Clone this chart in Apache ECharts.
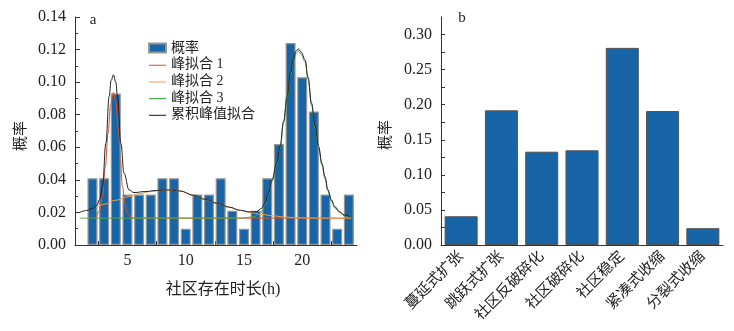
<!DOCTYPE html>
<html><head><meta charset="utf-8">
<script src="https://cdn.jsdelivr.net/npm/echarts@6/dist/echarts.min.js"></script>
<style>html,body{margin:0;padding:0;background:#fff}#c{width:734px;height:331px}</style>
</head><body><div id="c"></div>
<script>
// ---- Panel a: histogram of community lifetime ----
const barX = [2,3,4,5,6,7,8,9,10,11,12,13,14,15,16,17,18,19,20,21,22,23,24];
const barP = [0.041,0.041,0.093,0.031,0.031,0.031,0.041,0.041,0.010,0.031,0.031,0.041,0.021,0.010,0.021,0.041,0.062,0.124,0.103,0.082,0.031,0.010,0.031];

// fitted curves
const fit1X = [2.3,2.6,2.86,3.1,3.34,3.55,3.8,4.0,4.2,4.4,4.57,4.8,5.0,5.43,8,12,16,20,24.2];
const fit1Y = [0.0165,0.0210,0.0297,0.0480,0.0687,0.0860,0.0937,0.0880,0.0728,0.0520,0.0359,0.0250,0.0195,0.0166,0.0165,0.0165,0.0165,0.0165,0.0165];

const fit2X = [2.3,3.0,4.0,5.14,6.0,7.0,8.0,8.7,9.5,10.7,11.7,12.7,13.7,14.7,15.5,16.5,17.5,18.5,19.5,21,24.2];
const fit2Y = [0.0226,0.0250,0.0275,0.0297,0.0315,0.0328,0.0335,0.0337,0.0331,0.0304,0.0279,0.0255,0.0232,0.0212,0.0200,0.0188,0.0179,0.0172,0.0167,0.0165,0.0165];

const fit3X = [0.9,5,10,14.7,15.8,16.4,16.8,17.1,17.4,17.8,18.1,18.4,18.7,19.0,19.24,19.45,19.67,19.9,20.24,20.5,20.8,21.1,21.4,21.7,21.95,22.2,22.5,22.8,23.2,23.6,24.1];
const fit3Y = [0.0165,0.0165,0.0165,0.0165,0.0172,0.0195,0.0245,0.0310,0.0390,0.0490,0.0595,0.0750,0.0900,0.1045,0.1125,0.1175,0.1190,0.1172,0.1125,0.1017,0.0858,0.0718,0.0593,0.0488,0.0408,0.0330,0.0268,0.0228,0.0200,0.0180,0.0170];

const sumX = [0.9,1.5,2.0,2.4,2.6,2.86,3.15,3.43,3.6,3.8,4.0,4.15,4.43,4.71,5.14,5.56,6.5,7.5,8.5,9.5,10.7,11.7,12.7,13.7,14.7,15.5,16.1,16.5,16.8,17.1,17.4,17.8,18.1,18.4,18.7,19.0,19.24,19.45,19.67,19.9,20.24,20.5,20.8,21.1,21.4,21.7,21.95,22.2,22.5,22.8,23.2,23.6,24.1];
const sumY = [0.0200,0.0212,0.0225,0.0245,0.0278,0.0359,0.0625,0.0912,0.1010,0.1045,0.1000,0.0912,0.0625,0.0441,0.0338,0.0322,0.0328,0.0335,0.0338,0.0332,0.0305,0.0280,0.0256,0.0233,0.0213,0.0203,0.0205,0.0225,0.0256,0.0320,0.0400,0.0500,0.0605,0.0760,0.0912,0.1060,0.1138,0.1190,0.1204,0.1185,0.1138,0.1030,0.0871,0.0730,0.0605,0.0500,0.0420,0.0340,0.0277,0.0235,0.0205,0.0185,0.0174];

const xTicksA = [5,10,15,20];
const xMinorA = [2.5,5,7.5,10,12.5,15,17.5,20,22.5];
const yTicksA = [0,0.02,0.04,0.06,0.08,0.10,0.12,0.14];

// ---- Panel b: community evolution types ----
const typeNames = ['蔓延式扩张','跳跃式扩张','社区反破碎化','社区破碎化','社区稳定','紧凑式收缩','分裂式收缩'];
const typeP = [0.041,0.192,0.133,0.135,0.281,0.191,0.024];
const yLabelsB = [0,0.05,0.10,0.15,0.20,0.25,0.30];
const yTicksB = [0,0.025,0.05,0.075,0.10,0.125,0.15,0.175,0.20,0.225,0.25,0.275,0.30];

const zip = (xs, ys) => xs.map((x, i) => [x, ys[i]]);
const FF = "'Liberation Serif','Noto Sans CJK SC',serif";
const TXT = '#222';
const AX = '#333';
const BLUE = '#1764a6';
// thin horizontal stroke icon for legend lines (tiny corner marks keep the bbox at full size)
const LINE_ICON = 'path://M0,0 L0.2,0 L0.2,0.05 L0,0.05 Z M0,4.5 L17,4.5 L17,5.6 L0,5.6 Z M16.8,9 L17,9 L17,8.95 L16.8,8.95 Z';

const chart = echarts.init(document.getElementById('c'), null, {renderer: 'canvas'});
chart.setOption({
  animation: false,
  backgroundColor: '#fff',
  textStyle: {fontFamily: FF},
  grid: [
    {left: 75, top: 17, width: 282, height: 228},
    {left: 441, top: 17, width: 282, height: 228}
  ],
  legend: {
    orient: 'vertical', left: 148, top: 41, padding: 0, itemWidth: 17, itemHeight: 9, itemGap: 2.7,
    selectedMode: false,
    textStyle: {fontFamily: FF, fontSize: 14, color: TXT, lineHeight: 14},
    data: [
      {name: '概率', icon: 'rect'},
      {name: '峰拟合 1', icon: LINE_ICON}, {name: '峰拟合 2', icon: LINE_ICON},
      {name: '峰拟合 3', icon: LINE_ICON}, {name: '累积峰值拟合', icon: LINE_ICON}
    ]
  },
  xAxis: [
    {
      type: 'value', gridIndex: 0, min: 0.5, max: 24.7,
      axisLine: {show: true, onZero: false, lineStyle: {color: AX, width: 1}},
      axisTick: {show: true, inside: true, length: 4, customValues: xMinorA, lineStyle: {color: AX}},
      axisLabel: {customValues: xTicksA, margin: 8, fontSize: 16, fontFamily: FF, color: TXT},
      splitLine: {show: false}
    },
    {
      type: 'category', gridIndex: 1, data: typeNames,
      axisLine: {show: true, lineStyle: {color: AX, width: 1}},
      axisTick: {show: true, inside: true, alignWithLabel: true, length: 5, lineStyle: {color: '#777'}},
      axisLabel: {rotate: 45, interval: 0, margin: 9, fontSize: 15, fontFamily: FF, color: TXT},
      splitLine: {show: false}
    }
  ],
  yAxis: [
    {
      type: 'value', gridIndex: 0, min: 0, max: 0.14, interval: 0.02,
      axisLine: {show: true, lineStyle: {color: AX, width: 1}},
      axisTick: {show: true, inside: true, length: 5, lineStyle: {color: AX}},
      minorTick: {show: true, splitNumber: 2, length: 3, lineStyle: {color: AX}},
      axisLabel: {margin: 9, fontSize: 16, fontFamily: FF, color: TXT, formatter: v => v.toFixed(2)},
      splitLine: {show: false}
    },
    {
      type: 'value', gridIndex: 1, min: 0, max: 0.325,
      axisLine: {show: true, lineStyle: {color: AX, width: 1}},
      axisTick: {show: true, inside: true, length: 4, customValues: yTicksB, lineStyle: {color: AX}},
      axisLabel: {customValues: yLabelsB, margin: 9, fontSize: 16, fontFamily: FF, color: TXT, formatter: v => v.toFixed(2)},
      splitLine: {show: false}
    }
  ],
  series: [
    {
      name: '概率', type: 'bar', xAxisIndex: 0, yAxisIndex: 0, barWidth: 10,
      data: zip(barX, barP),
      itemStyle: {color: BLUE, borderColor: '#959595', borderWidth: 1.2}
    },
    {
      name: '峰拟合 1', type: 'line', xAxisIndex: 0, yAxisIndex: 0, symbol: 'none',
      smooth: 0.4, smoothMonotone: 'x', data: zip(fit1X, fit1Y),
      lineStyle: {color: '#d4542c', width: 1}, itemStyle: {color: '#d4542c'}
    },
    {
      name: '峰拟合 2', type: 'line', xAxisIndex: 0, yAxisIndex: 0, symbol: 'none',
      smooth: 0.4, smoothMonotone: 'x', data: zip(fit2X, fit2Y),
      lineStyle: {color: '#f0a04c', width: 1}, itemStyle: {color: '#f0a04c'}
    },
    {
      name: '峰拟合 3', type: 'line', xAxisIndex: 0, yAxisIndex: 0, symbol: 'none',
      smooth: 0.4, smoothMonotone: 'x', data: zip(fit3X, fit3Y),
      lineStyle: {color: '#52a84a', width: 1}, itemStyle: {color: '#52a84a'}
    },
    {
      name: '累积峰值拟合', type: 'line', xAxisIndex: 0, yAxisIndex: 0, symbol: 'none',
      smooth: 0.4, smoothMonotone: 'x', data: zip(sumX, sumY),
      lineStyle: {color: '#222', width: 1}, itemStyle: {color: '#444'}
    },
    {
      name: '类型概率', type: 'bar', xAxisIndex: 1, yAxisIndex: 1, barCategoryGap: '18%',
      data: typeP,
      itemStyle: {color: BLUE, borderColor: '#555', borderWidth: 1}
    }
  ],
  graphic: [
    {type: 'text', x: 93, y: 20, style: {text: 'a', font: "15px 'Liberation Serif'", fill: TXT, textAlign: 'center', textVerticalAlign: 'middle'}},
    {type: 'text', x: 462, y: 18, style: {text: 'b', font: "15px 'Liberation Serif'", fill: TXT, textAlign: 'center', textVerticalAlign: 'middle'}},
    {type: 'text', x: 19, y: 136, rotation: Math.PI / 2, style: {text: '概率', font: "15px 'Noto Sans CJK SC'", fill: TXT, textAlign: 'center', textVerticalAlign: 'middle'}},
    {type: 'text', x: 384, y: 135, rotation: Math.PI / 2, style: {text: '概率', font: "15px 'Noto Sans CJK SC'", fill: TXT, textAlign: 'center', textVerticalAlign: 'middle'}},
    {type: 'text', x: 223, y: 290, style: {text: '社区存在时长(h)', font: "16px 'Liberation Serif','Noto Sans CJK SC'", fill: TXT, textAlign: 'center', textVerticalAlign: 'middle'}}
  ]
});
</script></body></html>
